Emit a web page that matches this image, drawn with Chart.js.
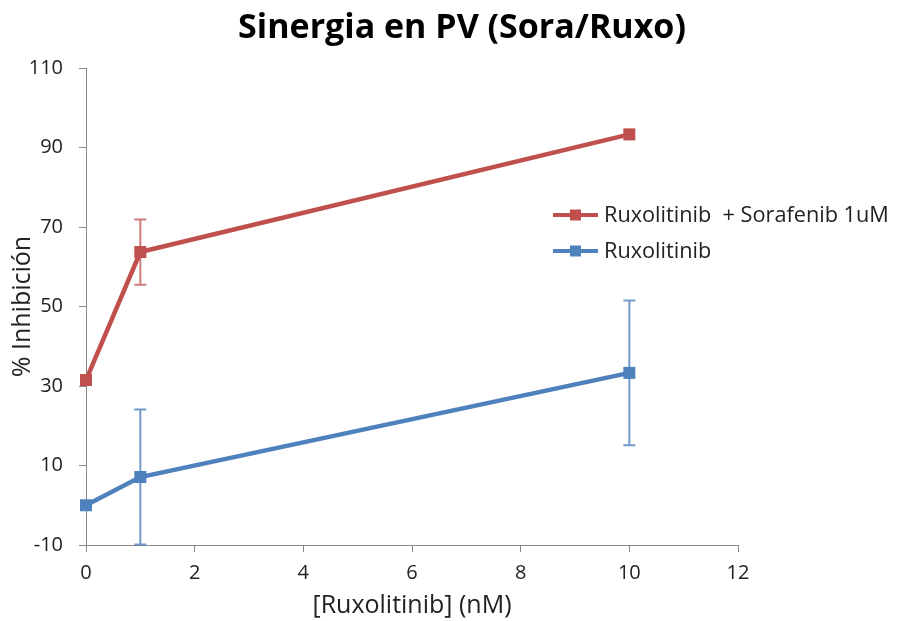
<!DOCTYPE html>
<html>
<head>
<meta charset="utf-8">
<script src="https://cdn.jsdelivr.net/npm/chart.js@4/dist/chart.umd.min.js"></script>
<style>
    html, body { margin: 0; padding: 0; background: #fff; }
    #wrap { width: 897px; height: 621px; }
</style>
</head>
<body>
<div id="wrap"><canvas id="chart"></canvas></div>
<script>
// concentrations (nM)
const doses = [0, 1, 10];
const comboValues = [31.5, 63.7, 93.3];
const comboErrors = [0, 8.2, 0];
const ruxoValues = [0, 7.1, 33.3];
const ruxoErrors = [0, 17, 18.2];
const seriesLabels = ["Ruxolitinib  + Sorafenib 1uM", "Ruxolitinib"];
const chartTitle = "Sinergia en PV (Sora/Ruxo)";

const RED = "#C0504D";
const BLUE = "#4F81BD";
const FONT = "'Open Sans', 'DejaVu Sans', sans-serif";

function toPoints(vals) {
    return doses.map((d, i) => ({ x: d, y: vals[i] }));
}

// error bars drawn from the dataset's errors via the scales
const errorBars = {
    id: "errorBars",
    afterDatasetsDraw(chart) {
        const ctx = chart.ctx;
        const xs = chart.scales.x;
        const ys = chart.scales.y;
        chart.data.datasets.forEach(ds => {
            ctx.save();
            ctx.strokeStyle = ds.errColor;
            ctx.lineWidth = 2;
            ds.data.forEach((p, i) => {
                const e = ds.errors[i];
                if (!e) return;
                const px = xs.getPixelForValue(p.x);
                const top = ys.getPixelForValue(p.y + e);
                const bot = Math.min(ys.getPixelForValue(p.y - e), ys.bottom);
                ctx.beginPath();
                ctx.moveTo(px, top); ctx.lineTo(px, bot);
                ctx.moveTo(px - 6, top); ctx.lineTo(px + 6, top);
                ctx.moveTo(px - 6, bot); ctx.lineTo(px + 6, bot);
                ctx.stroke();
            });
            ctx.restore();
        });
    }
};

// title centred on the whole picture + legend inside the plot, like the original
const decorations = {
    id: "decorations",
    afterDraw(chart) {
        const ctx = chart.ctx;
        ctx.save();
        ctx.fillStyle = "#000";
        ctx.font = "bold 34px " + FONT;
        ctx.textAlign = "center";
        ctx.textBaseline = "middle";
        ctx.fillText(chartTitle, 462, 28);

        ctx.textAlign = "left";
        chart.data.datasets.forEach((ds, i) => {
            const y = 215 + i * 36;
            ctx.strokeStyle = ds.borderColor;
            ctx.lineWidth = 4;
            ctx.beginPath();
            ctx.moveTo(553, y); ctx.lineTo(598, y);
            ctx.stroke();
            ctx.fillStyle = ds.borderColor;
            ctx.fillRect(570, y - 5.5, 11, 11);
            ctx.fillStyle = "#222";
            ctx.font = "21.7px " + FONT;
            ctx.fillText(ds.label, 604, y + 1);
        });
        ctx.restore();
    }
};

new Chart(document.getElementById("chart"), {
    type: "scatter",
    data: {
        datasets: [
            {
                label: seriesLabels[0],
                data: toPoints(comboValues),
                errors: comboErrors,
                errColor: "rgba(192,80,77,0.75)",
                showLine: true,
                clip: false,
                borderColor: RED,
                backgroundColor: RED,
                borderWidth: 4.5,
                pointStyle: "rect",
                pointRadius: 8.5,
                pointBorderWidth: 0
            },
            {
                label: seriesLabels[1],
                data: toPoints(ruxoValues),
                errors: ruxoErrors,
                errColor: "rgba(79,129,189,0.8)",
                showLine: true,
                clip: false,
                borderColor: BLUE,
                backgroundColor: BLUE,
                borderWidth: 4.5,
                pointStyle: "rect",
                pointRadius: 8.5,
                pointBorderWidth: 0
            }
        ]
    },
    options: {
        responsive: true,
        maintainAspectRatio: false,
        animation: false,
        layout: { padding: { top: 68, right: 159, bottom: 0, left: 0 } },
        plugins: {
            legend: { display: false },
            tooltip: { enabled: false },
            title: { display: false }
        },
        scales: {
            x: {
                type: "linear",
                min: 0,
                max: 12,
                ticks: { stepSize: 2, color: "#222", font: { family: FONT, size: 20 }, padding: 9 },
                grid: { display: true, drawOnChartArea: false, drawTicks: true, tickLength: 7, color: "#888" },
                border: { color: "#888", width: 1 },
                title: {
                    display: true,
                    text: "[Ruxolitinib] (nM)",
                    color: "#222",
                    font: { family: FONT, size: 25 },
                    padding: { top: 4, bottom: 0 }
                },
                afterFit(scale) { scale.height = 76; }
            },
            y: {
                min: -10,
                max: 110,
                ticks: { stepSize: 20, color: "#222", font: { family: FONT, size: 20 }, padding: 16 },
                grid: { display: true, drawOnChartArea: false, drawTicks: true, tickLength: 7, color: "#888" },
                border: { color: "#888", width: 1 },
                title: {
                    display: true,
                    text: "% Inhibición",
                    color: "#222",
                    font: { family: FONT, size: 25 },
                    padding: { top: 8, bottom: 4 }
                },
                afterFit(scale) { scale.width = 86; }
            }
        }
    },
    plugins: [errorBars, decorations]
});
</script>
</body>
</html>
